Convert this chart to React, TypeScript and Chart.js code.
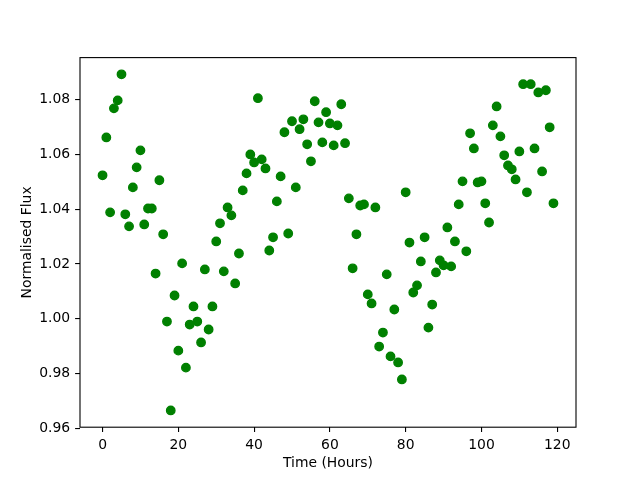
import React, { useEffect, useRef } from "react";
import { Chart, registerables } from "chart.js";

Chart.register(...registerables);

const hours = [
  0, 1, 2, 3, 4, 5, 6, 7, 8, 9, 10, 11, 12, 13, 14, 15, 16, 17, 18, 19,
  20, 21, 22, 23, 24, 25, 26, 27, 28, 29, 30, 31, 32, 33, 34, 35, 36, 37, 38, 39,
  40, 41, 42, 43, 44, 45, 46, 47, 48, 49, 50, 51, 52, 53, 54, 55, 56, 57, 58, 59,
  60, 61, 62, 63, 64, 65, 66, 67, 68, 69, 70, 71, 72, 73, 74, 75, 76, 77, 78, 79,
  80, 81, 82, 83, 84, 85, 86, 87, 88, 89, 90, 91, 92, 93, 94, 95, 96, 97, 98, 99,
  100, 101, 102, 103, 104, 105, 106, 107, 108, 109, 110, 111, 112, 113, 114, 115, 116, 117, 118, 119,
];

const flux = [
  1.0523, 1.0661, 1.0388, 1.0767, 1.0796, 1.0891, 1.0381, 1.0337, 1.0479, 1.0552,
  1.0614, 1.0344, 1.0402, 1.0402, 1.0165, 1.0505, 1.0308, 0.999, 0.9666, 1.0085,
  0.9884, 1.0202, 0.9822, 0.9979, 1.0045, 0.999, 0.9914, 1.018, 0.9961, 1.0045,
  1.0282, 1.0348, 1.0173, 1.0406, 1.0377, 1.0129, 1.0238, 1.0468, 1.053, 1.0599,
  1.057, 1.0804, 1.0581, 1.0548, 1.0249, 1.0297, 1.0428, 1.0519, 1.068, 1.0311,
  1.072, 1.0479, 1.0691, 1.0727, 1.0636, 1.0574, 1.0793, 1.0716, 1.0643, 1.0753,
  1.0712, 1.0632, 1.0705, 1.0782, 1.064, 1.0439, 1.0184, 1.0308, 1.0413, 1.0417,
  1.0089, 1.0056, 1.0406, 0.9899, 0.995, 1.0162, 0.9863, 1.0034, 0.9841, 0.9779,
  1.0461, 1.0278, 1.0096, 1.0122, 1.0209, 1.0297, 0.9968, 1.0052, 1.0169, 1.0213,
  1.0195, 1.0333, 1.0191, 1.0282, 1.0417, 1.0501, 1.0246, 1.0676, 1.0621, 1.0497,
  1.0501, 1.0421, 1.0351, 1.0705, 1.0774, 1.0665, 1.0596, 1.0559, 1.0545, 1.0508,
  1.061, 1.0855, 1.0461, 1.0855, 1.0621, 1.0825, 1.0537, 1.0833, 1.0698, 1.0421,
];

const xTicks = [0, 20, 40, 60, 80, 100, 120];
const yTicks = [0.96, 0.98, 1.0, 1.02, 1.04, 1.06, 1.08];
const xLabel = "Time (Hours)";
const yLabel = "Normalised Flux";

const FONT = { family: "'DejaVu Sans', sans-serif", size: 13.9 };

const frame = {
  id: "frame",
  afterDraw(chart: any) {
    const { ctx, chartArea } = chart;
    ctx.save();
    ctx.strokeStyle = "#000";
    ctx.lineWidth = 1.1;
    ctx.strokeRect(chartArea.left, chartArea.top, chartArea.right - chartArea.left, chartArea.bottom - chartArea.top);
    ctx.restore();
  },
};

export default function App() {
  const ref = useRef<HTMLCanvasElement | null>(null);
  useEffect(() => {
    if (!ref.current) return;
    const chart = new Chart(ref.current, {
      type: "scatter",
      data: {
        datasets: [
          {
            data: hours.map((h, i) => ({ x: h, y: flux[i] })),
            backgroundColor: "#008000",
            borderColor: "#008000",
            borderWidth: 1.4,
            pointRadius: 4.2,
            pointHoverRadius: 4.2,
          },
        ],
      },
      options: {
        animation: false,
        responsive: false,
        devicePixelRatio: 1,
        layout: { padding: { left: 0, top: 57.6, right: 64, bottom: 0 } },
        plugins: { legend: { display: false }, tooltip: { enabled: false } },
        scales: {
          x: {
            type: "linear",
            min: -5.95,
            max: 124.95,
            afterFit: (s: any) => { s.height = 52.8; },
            afterBuildTicks: (s: any) => { s.ticks = xTicks.map((v) => ({ value: v })); },
            border: { display: false },
            grid: { drawOnChartArea: false, drawTicks: true, tickLength: 4.9, color: "#000", lineWidth: 1.1 },
            ticks: { color: "#000", font: FONT, padding: 4.9, maxRotation: 0, callback: (v: any) => String(v) },
            title: { display: true, text: xLabel, color: "#000", font: FONT, padding: { top: 0, bottom: 8.6 } },
          },
          y: {
            type: "linear",
            min: 0.9605,
            max: 1.0952,
            afterFit: (s: any) => { s.width = 80; },
            afterBuildTicks: (s: any) => { s.ticks = yTicks.map((v) => ({ value: v })); },
            border: { display: false },
            grid: { drawOnChartArea: false, drawTicks: true, tickLength: 4.9, color: "#000", lineWidth: 1.1 },
            ticks: { color: "#000", font: FONT, padding: 4.9, callback: (v: any) => Number(v).toFixed(2) },
            title: { display: true, text: yLabel, color: "#000", font: FONT, padding: { top: 18.6, bottom: 0 } },
          },
        },
      },
      plugins: [frame],
    });
    return () => chart.destroy();
  }, []);
  return (
    <div style={{ position: "absolute", left: 0, top: 0, width: 640, height: 480, background: "#fff" }}>
      <canvas ref={ref} width={640} height={480} style={{ display: "block" }} />
    </div>
  );
}
